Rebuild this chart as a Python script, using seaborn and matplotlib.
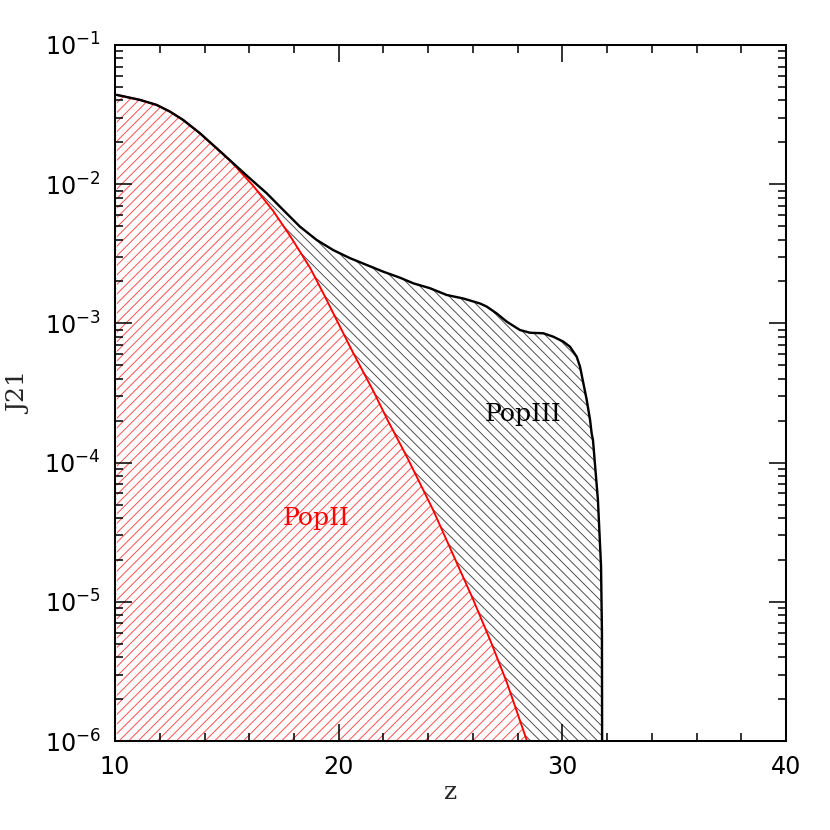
import numpy as np
import seaborn as sns
import matplotlib
matplotlib.use("Agg")
import matplotlib.pyplot as plt
from matplotlib.ticker import MultipleLocator, LogLocator, NullFormatter

# total J21 (PopII + PopIII)
z_tot = [10.08, 11.12, 11.86, 12.46, 13.05, 13.8, 14.55, 15.29, 16.03, 16.78,
         17.52, 18.27, 19.02, 19.76, 20.51, 21.25, 22.0, 22.74, 23.34, 24.08,
         24.83, 25.57, 26.32, 26.62, 27.06, 27.51, 28.1, 28.55, 29.15, 29.59,
         30.04, 30.34, 30.64, 30.79, 30.94, 31.09, 31.24, 31.31, 31.37, 31.59,
         31.73, 31.77, 31.78]
j_tot = [0.0438, 0.0403, 0.0371, 0.0332, 0.0289, 0.0232, 0.0181, 0.0141, 0.0110,
         0.00861, 0.00653, 0.00495, 0.00397, 0.00336, 0.00294, 0.00263, 0.00235,
         0.00213, 0.00194, 0.00179, 0.00160, 0.00151, 0.00139, 0.00132, 0.00118,
         0.00103, 0.000897, 0.000857, 0.000849, 0.000803, 0.000740, 0.000680,
         0.000577, 0.000489, 0.000371, 0.000282, 0.000202, 0.000162, 0.000145,
         5.4e-5, 1.8e-5, 6.0e-6, 6.3e-7]

# PopII contribution
z_pop2 = [10.08, 11.12, 11.86, 12.46, 13.05, 13.8, 14.55, 15.14, 16.17, 17.06,
          17.82, 18.72, 19.3, 19.92, 20.64, 21.53, 22.2, 23.05, 24.22, 25.11,
          26.0, 26.76, 27.52, 28.42]
j_pop2 = [0.0438, 0.0403, 0.0371, 0.0332, 0.0289, 0.0232, 0.0180, 0.0148,
          0.00977, 0.00646, 0.00427, 0.00251, 0.00166, 0.00105, 0.000617,
          0.000331, 0.000200, 0.000110, 4.57e-5, 2.19e-5, 1.05e-5, 5.37e-6,
          2.63e-6, 1.0e-6]

DPI = 86
sns.set_theme(style="ticks")
plt.rcParams["font.family"] = ["DejaVu Serif", "DejaVu Sans"]
plt.rcParams["mathtext.fontset"] = "dejavusans"
plt.rcParams["hatch.linewidth"] = 0.8

fig = plt.figure(figsize=(830 / DPI, 830 / DPI), dpi=DPI)
ax = fig.add_axes([0.1386, 0.1072, 0.8084, 0.8386])
ax.set_yscale("log")
ax.set_axisbelow(False)

# hatched areas: PopIII between the curves, PopII under the red one
ax.fill_between(z_tot, j_tot, 1e-8, facecolor="none", edgecolor="0.3",
                hatch="\\\\\\", linewidth=0, zorder=1)
ax.fill_between(z_pop2, j_pop2, 1e-8, facecolor="white", edgecolor="#ff4d4d",
                hatch="///", linewidth=0, zorder=1.5)

sns.lineplot(x=z_pop2, y=j_pop2, color="red", lw=1.6, ax=ax,
             sort=False, estimator=None, zorder=3)
sns.lineplot(x=z_tot, y=j_tot, color="black", lw=2.0, ax=ax,
             sort=False, estimator=None, zorder=4)

ax.set_xlim(10, 40)
ax.set_ylim(1e-6, 1e-1)

ax.xaxis.set_major_locator(MultipleLocator(10))
ax.xaxis.set_minor_locator(MultipleLocator(2))
ax.yaxis.set_major_locator(LogLocator(base=10))
ax.yaxis.set_minor_locator(LogLocator(base=10, subs=np.arange(2, 10)))
ax.yaxis.set_minor_formatter(NullFormatter())

ax.tick_params(which="both", direction="in", top=True, right=True, width=1.3,
               colors="black")
ax.tick_params(which="major", length=14, pad=12, labelsize=20)
ax.tick_params(which="minor", length=6.5)
for tl in ax.get_xticklabels() + ax.get_yticklabels():
    tl.set_family("DejaVu Sans")
for sp in ax.spines.values():
    sp.set_linewidth(1.7)
    sp.set_color("black")
    sp.set_zorder(5)

ax.set_xlabel("z", fontsize=21)
ax.set_ylabel("J21", fontsize=21)
ax.xaxis.set_label_coords(0.5, -0.058)
ax.yaxis.set_label_coords(-0.125, 0.5)

ax.text(28.24, 2.2e-4, "PopIII", fontsize=21, color="black",
        ha="center", va="center", zorder=5)
ax.text(18.99, 3.94e-5, "PopII", fontsize=21, color="red",
        ha="center", va="center", zorder=5)

fig.savefig("out.png", dpi=DPI)
